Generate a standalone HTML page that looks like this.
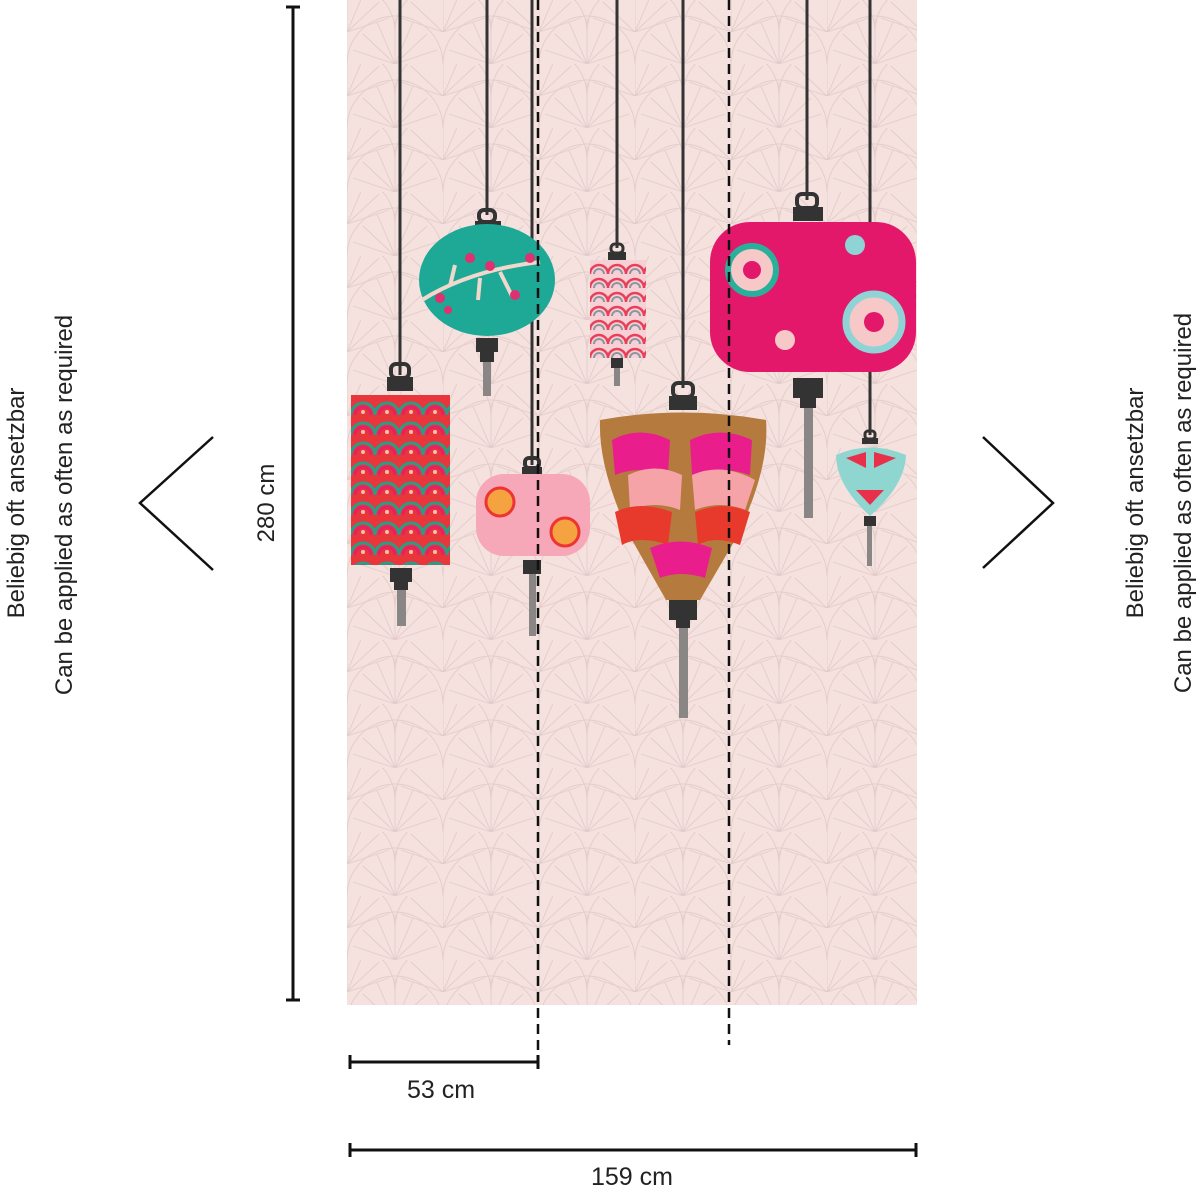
<!DOCTYPE html>
<html><head><meta charset="utf-8"><style>
html,body{margin:0;padding:0;background:#fff;width:1200px;height:1190px;overflow:hidden}
svg{display:block}
text{font-family:"Liberation Sans",sans-serif;fill:#222}
</style></head><body>
<svg width="1200" height="1190" viewBox="0 0 1200 1190" xmlns="http://www.w3.org/2000/svg">
<defs>
<pattern id="fan" width="96" height="64" patternUnits="userSpaceOnUse" x="347" y="0">
<rect width="96" height="64" fill="#f5e1de"/>
<g fill="none" stroke="#e3cccb" stroke-width="0.9">
<path d="M0 64 A48 48 0 0 1 96 64"/>
<path d="M-48 32 A48 48 0 0 1 48 32"/><path d="M48 32 A48 48 0 0 1 144 32"/>
<path d="M48 64 L48 18 M48 64 L30 22 M48 64 L66 22 M48 64 L16 34 M48 64 L80 34 M48 64 L6 50 M48 64 L90 50"/>
<path d="M0 32 L0 -14 M0 32 L-18 -10 M0 32 L18 -10 M0 32 L32 2 M0 32 L42 18 M96 32 L64 2 M96 32 L54 18"/>
</g>
</pattern>
<pattern id="scaleR" width="24" height="20" patternUnits="userSpaceOnUse" x="351" y="395">
<rect width="24" height="20" fill="#e8363a"/>
<path d="M0 20 A12 12 0 0 1 24 20" fill="none" stroke="#2a9c88" stroke-width="3"/>
<path d="M4 20 A8 8 0 0 1 20 20" fill="none" stroke="#e91e63" stroke-width="3"/>
<circle cx="12" cy="17" r="2" fill="#f9c0b0"/>
</pattern>
<pattern id="scaleP" width="18" height="14" patternUnits="userSpaceOnUse" x="590" y="260">
<rect width="18" height="14" fill="#f6d0d4"/>
<path d="M0 14 A9 9 0 0 1 18 14" fill="none" stroke="#e8405a" stroke-width="2.5"/>
<path d="M4 14 A5 5 0 0 1 14 14" fill="none" stroke="#8a96a0" stroke-width="2"/>
</pattern>
</defs>

<rect x="347" y="0" width="570" height="1005" fill="url(#fan)"/>

<g stroke="#333" stroke-width="3">
<line x1="400" y1="0" x2="400" y2="375"/>
<line x1="487" y1="0" x2="487" y2="215"/>
<line x1="532" y1="0" x2="532" y2="465"/>
<line x1="617" y1="0" x2="617" y2="248"/>
<line x1="683" y1="0" x2="683" y2="388"/>
<line x1="807" y1="0" x2="807" y2="200"/>
<line x1="870" y1="0" x2="870" y2="435"/>
</g>

<g fill="#333">
<rect x="391" y="364" width="18" height="14" rx="5" fill="none" stroke="#333" stroke-width="4"/>
<rect x="387" y="377" width="26" height="14"/>
<rect x="390" y="568" width="22" height="14"/><rect x="394" y="582" width="14" height="8"/>
<rect x="479" y="210" width="16" height="12" rx="5" fill="none" stroke="#333" stroke-width="4"/>
<rect x="475" y="221" width="26" height="10"/>
<rect x="476" y="338" width="22" height="14"/><rect x="480" y="352" width="14" height="10"/>
<rect x="525" y="458" width="14" height="10" rx="4" fill="none" stroke="#333" stroke-width="4"/>
<rect x="522" y="467" width="20" height="8"/>
<rect x="523" y="560" width="18" height="14"/>
<rect x="611" y="244" width="12" height="9" rx="4" fill="none" stroke="#333" stroke-width="3"/>
<rect x="608" y="252" width="18" height="8"/>
<rect x="611" y="358" width="12" height="10"/>
<rect x="673" y="383" width="20" height="14" rx="5" fill="none" stroke="#333" stroke-width="4"/>
<rect x="669" y="396" width="28" height="14"/>
<rect x="669" y="600" width="28" height="20"/><rect x="676" y="620" width="14" height="8"/>
<rect x="797" y="194" width="20" height="14" rx="5" fill="none" stroke="#333" stroke-width="4"/>
<rect x="793" y="207" width="30" height="14"/>
<rect x="793" y="378" width="30" height="20"/><rect x="800" y="398" width="16" height="10"/>
<rect x="865" y="431" width="10" height="8" rx="3" fill="none" stroke="#333" stroke-width="3"/>
<rect x="862" y="438" width="16" height="6"/>
<rect x="864" y="516" width="12" height="10"/>
</g>

<g fill="#8a8686">
<rect x="397" y="590" width="9" height="36"/>
<rect x="483" y="362" width="8" height="34"/>
<rect x="529" y="574" width="7" height="62"/>
<rect x="614" y="368" width="6" height="18"/>
<rect x="679" y="628" width="9" height="90"/>
<rect x="804" y="408" width="9" height="110"/>
<rect x="867" y="526" width="5" height="40"/>
</g>

<rect x="351" y="395" width="99" height="170" fill="url(#scaleR)"/>
<ellipse cx="487" cy="280" rx="68" ry="56" fill="#1ea896"/>
<path d="M422 300 Q470 270 540 262 M450 286 L455 265 M480 278 L478 300 M500 272 L512 296" stroke="#f0d8cc" stroke-width="4" fill="none"/>
<g fill="#e0306f"><circle cx="440" cy="298" r="5"/><circle cx="470" cy="258" r="5"/><circle cx="490" cy="266" r="5"/><circle cx="515" cy="295" r="5"/><circle cx="530" cy="258" r="5"/><circle cx="448" cy="310" r="4"/></g>
<rect x="476" y="474" width="114" height="82" rx="28" fill="#f7a8b8"/>
<circle cx="500" cy="502" r="14" fill="#f4a340" stroke="#e33" stroke-width="3"/><circle cx="565" cy="532" r="14" fill="#f4a340" stroke="#e33" stroke-width="3"/>
<rect x="590" y="260" width="56" height="98" fill="url(#scaleP)"/>
<path d="M600 420 Q683 405 766 420 Q770 470 735 540 L700 600 L666 600 L632 540 Q598 470 600 420 Z" fill="#b57b3e"/>
<path d="M612 440 Q640 425 670 440 L668 475 Q640 465 615 475Z M690 440 Q720 425 752 440 L750 475 Q720 465 692 475Z" fill="#e91e8c"/>
<path d="M628 475 Q655 462 682 475 L680 510 Q655 500 630 510Z M692 475 Q722 462 755 480 L745 510 Q720 500 695 510Z" fill="#f6a3a8"/>
<path d="M615 512 Q640 500 672 512 L668 545 Q640 535 622 545Z M695 512 Q725 500 750 512 L740 545 Q715 535 698 545Z" fill="#e83a2c"/>
<path d="M650 548 Q680 535 712 548 L705 578 Q680 570 660 578Z" fill="#e91e8c"/>
<rect x="710" y="222" width="206" height="150" rx="40" fill="#e3186a"/>
<circle cx="752" cy="270" r="24" fill="#f7c8c8" stroke="#2ab09a" stroke-width="6"/><circle cx="752" cy="270" r="9" fill="#e3186a"/>
<circle cx="874" cy="322" r="28" fill="#f7c8c8" stroke="#8fd3d6" stroke-width="7"/><circle cx="874" cy="322" r="10" fill="#e3186a"/>
<circle cx="855" cy="245" r="10" fill="#8fd3d6"/><circle cx="785" cy="340" r="10" fill="#f7c8c8"/>
<path d="M836 455 Q870 440 906 455 Q905 485 870 516 Q836 485 836 455 Z" fill="#8fd6d0"/>
<path d="M846 458 L866 452 L866 468Z M874 452 L896 458 L874 468Z M856 490 L884 490 L870 505Z" fill="#e8304a"/>

<g stroke="#111" stroke-width="2.5" stroke-dasharray="10 6">
<line x1="538" y1="0" x2="538" y2="1070"/>
<line x1="729" y1="0" x2="729" y2="1045"/>
</g>

<g stroke="#111" stroke-width="3">
<line x1="293" y1="7" x2="293" y2="1000"/>
<line x1="286" y1="7" x2="300" y2="7"/>
<line x1="286" y1="1000" x2="300" y2="1000"/>
<line x1="350" y1="1062" x2="538" y2="1062"/>
<line x1="350" y1="1055" x2="350" y2="1069"/>
<line x1="538" y1="1055" x2="538" y2="1069"/>
<line x1="350" y1="1150" x2="916" y2="1150"/>
<line x1="350" y1="1143" x2="350" y2="1157"/>
<line x1="916" y1="1143" x2="916" y2="1157"/>
</g>
<text x="0" y="0" font-size="24" text-anchor="middle" transform="translate(274,503) rotate(-90)">280 cm</text>
<text x="441" y="1098" font-size="25" text-anchor="middle">53 cm</text>
<text x="632" y="1185" font-size="25" text-anchor="middle">159 cm</text>

<polyline points="213,437 140,503 213,570" fill="none" stroke="#111" stroke-width="2.5"/>
<polyline points="983,437 1053,503 983,568" fill="none" stroke="#111" stroke-width="2.5"/>

<g font-size="24" text-anchor="middle">
<text transform="translate(24,503) rotate(-90)">Beliebig oft ansetzbar</text>
<text transform="translate(72,505) rotate(-90)">Can be applied as often as required</text>
<text transform="translate(1143,503) rotate(-90)">Beliebig oft ansetzbar</text>
<text transform="translate(1191,503) rotate(-90)">Can be applied as often as required</text>
</g>
</svg>
</body></html>
